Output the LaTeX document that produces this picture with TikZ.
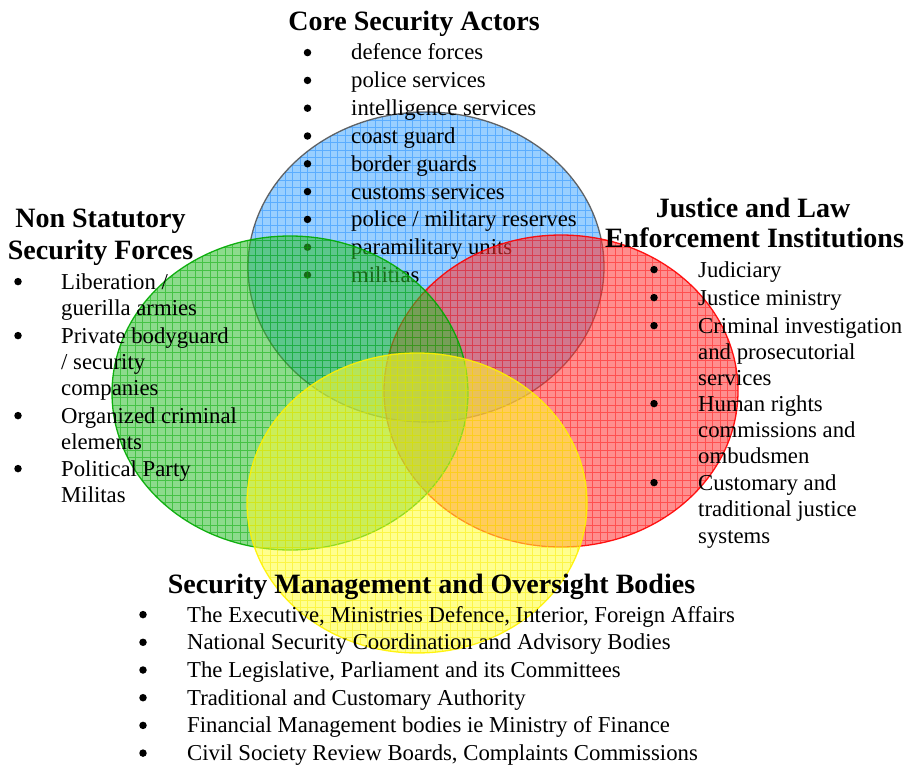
\documentclass[tikz,border=0pt]{standalone}
\usepackage{fontspec}
\setmainfont{Liberation Serif}
\definecolor{corefill}{RGB}{70,168,255}
\definecolor{coregrid}{RGB}{30,140,255}
\definecolor{coreline}{RGB}{85,85,85}
\definecolor{justfill}{RGB}{255,50,50}
\definecolor{justgrid}{RGB}{255,20,20}
\definecolor{nsfill}{RGB}{45,190,45}
\definecolor{nsgrid}{RGB}{0,170,0}
\definecolor{mgmtfill}{RGB}{255,255,50}
\definecolor{mgmtgrid}{RGB}{250,235,0}
\tikzset{
  venn/.style n args={3}{fill=#1, fill opacity=.55, draw=#3, draw opacity=.9, line width=1.3pt,
    path picture={\draw[#2, line width=.5pt, draw opacity=.5, step=7.5pt]
      (path picture bounding box.south west) grid (path picture bounding box.north east);}},
  head/.style={font=\fontsize{28}{32}\selectfont\bfseries, anchor=base, inner sep=0pt},
  item/.style={font=\fontsize{22.75}{26}\selectfont, anchor=base west, inner sep=0pt},
  dot/.style={circle, fill=black, inner sep=0pt, minimum size=7.5pt},
}
\begin{document}
\begin{tikzpicture}[x=1pt, y=-1pt, line join=round, line cap=round]
  \useasboundingbox (0,0) rectangle (904,765);
  \coordinate (coreC) at (426,267);
  \coordinate (justC) at (561,391);
  \coordinate (nsC) at (290,393);
  \coordinate (mgmtC) at (417,503);
  % core circle and its list
  \draw[venn={corefill}{coregrid}{coreline}] (coreC) ellipse [x radius=178pt, y radius=155pt];
  \node[head] (coreT) at (414,31) {Core Security Actors};
  \foreach \t [count=\i] in {defence forces, police services, intelligence services, coast guard,
      border guards, customs services, police / military reserves, paramilitary units, militias} {
    \node[dot] (coreb\i) at (307.5,{32.2+27.8*\i-7.4}) {};
    \node[item] (core\i) at (351,{32.2+27.8*\i}) {\t};
  }
  % other circles
  \draw[venn={justfill}{justgrid}{red}] (justC) ellipse [x radius=177pt, y radius=156pt];
  \draw[venn={nsfill}{nsgrid}{nsgrid}] (nsC) ellipse [x radius=178pt, y radius=157pt];
  \draw[venn={mgmtfill}{mgmtgrid}{yellow}] (mgmtC) ellipse [x radius=170pt, y radius=150pt];
  % headings
  \node[head] (nsTa) at (100.5,227) {Non Statutory};
  \node[head] (nsTb) at (100.5,259) {Security Forces};
  \node[head] (justTa) at (753,217) {Justice and Law};
  \node[head] (justTb) at (754.5,247) {Enforcement Institutions};
  \node[head] (mgmtT) at (431.5,593) {Security Management and Oversight Bodies};
  % lists
  \foreach \y/\b/\t [count=\i] in {289/1/{Liberation /}, 315/0/{guerilla armies}, 343/1/{Private bodyguard},
      369/0/{/ security}, 395/0/{companies}, 423/1/{Organized criminal}, 449/0/{elements},
      476/1/{Political Party}, 502/0/{Militas}} {
    \ifnum\b=1 \node[dot] (nsb\i) at (18,\y-7.4) {}; \fi
    \node[item] (ns\i) at (61,\y) {\t};
  }
  \foreach \y/\b/\t [count=\i] in {277/1/{Judiciary}, 305/1/{Justice ministry}, 333/1/{Criminal investigation},
      359/0/{and prosecutorial}, 385/0/{services}, 411/1/{Human rights}, 437/0/{commissions and},
      463/0/{ombudsmen}, 490/1/{Customary and}, 516/0/{traditional justice}, 543/0/{systems}} {
    \ifnum\b=1 \node[dot] (justb\i) at (654,\y-7.4) {}; \fi
    \node[item] (just\i) at (698,\y) {\t};
  }
  \foreach \t [count=\i] in {{The Executive, Ministries Defence, Interior, Foreign Affairs},
      {National Security Coordination and Advisory Bodies}, {The Legislative, Parliament and its Committees},
      {Traditional and Customary Authority}, {Financial Management bodies ie Ministry of Finance},
      {Civil Society Review Boards, Complaints Commissions}} {
    \node[dot] (mgmtb\i) at (143,{594.3+27.7*\i-7.4}) {};
    \node[item] (mgmt\i) at (187,{594.3+27.7*\i}) {\t};
  }
\end{tikzpicture}
\end{document}
